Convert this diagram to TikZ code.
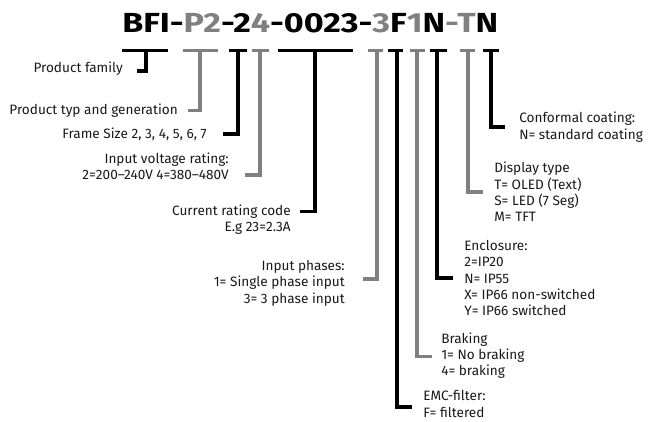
\documentclass[tikz,border=0pt]{standalone}
\usepackage{fontspec}
\setmainfont{Fira Sans}
\definecolor{cgray}{RGB}{128,128,128}
\tikzset{
  lbl/.style={font=\fontsize{10.2}{12.2}\selectfont, inner sep=0pt, text=black!90},
  blk/.style={line width=2.3pt, draw=black},
  gry/.style={line width=2.3pt, draw=cgray},
}
\begin{document}
\begin{tikzpicture}[x=0.75pt,y=-0.75pt]
\useasboundingbox (0,0) rectangle (648,421);
% title
\node[anchor=base west, inner sep=0pt] (title) at (122,32)
  {\resizebox{282pt}{\height}{\fontsize{20.7}{24}\selectfont\bfseries BFI-\textcolor{cgray}{P2}-2\textcolor{cgray}{4}-0023-\textcolor{cgray}{3}F\textcolor{cgray}{1}N\textcolor{cgray}{-T}N}};

% labels (left side); base anchor = last line baseline
\node[lbl, anchor=base east] (pf) at (123,72.7) {Product family};
\node[lbl, anchor=base east] (ptg) at (178,114) {Product typ and generation};
\node[lbl, anchor=base east] (fs) at (207,138.7) {Frame Size 2, 3, 4, 5, 6, 7};
\node[lbl, anchor=base east, align=right] (ivr) at (229,179.3) {Input voltage rating:\\2=200–240V 4=380–480V};
\node[lbl, anchor=base east, align=right] (crc) at (291,231.7) {Current rating code\\E.g 23=2.3A};
\node[lbl, anchor=base east, align=right] (ip) at (345,303) {Input phases:\\1= Single phase input\\3= 3 phase input};
% labels (right side)
\node[lbl, anchor=base west, align=left] (emc) at (423,417) {EMC-filter:\\F= filtered};
\node[lbl, anchor=base west, align=left] (brk) at (441,375.7) {Braking\\1= No braking\\4= braking};
\node[lbl, anchor=base west, align=left] (enc) at (464,315.7) {Enclosure:\\2=IP20\\N= IP55\\X= IP66 non-switched\\Y= IP66 switched};
\node[lbl, anchor=base west, align=left] (disp) at (494,221.7) {Display type\\T= OLED (Text)\\S= LED (7 Seg)\\M= TFT};
\node[lbl, anchor=base west, align=left] (cc) at (519,139) {Conformal coating:\\N= standard coating};

% bracket coordinates
\coordinate (a1) at (122,50.5); \coordinate (a2) at (168,50.5); \coordinate (at) at (146,50.5); \coordinate (af) at (137,71);
\coordinate (b1) at (183,50.5); \coordinate (b2) at (218,50.5); \coordinate (bt) at (200,50.5); \coordinate (bf) at (188,110.7);
\coordinate (c1) at (229,50.5); \coordinate (c2) at (247,50.5); \coordinate (ct) at (238,50.5); \coordinate (cf) at (223,134);
\coordinate (d1) at (252,50.5); \coordinate (d2) at (269,50.5); \coordinate (dt) at (260,50.5); \coordinate (df) at (245,175);
\coordinate (e1) at (278,50.5); \coordinate (e2) at (353,50.5); \coordinate (et) at (315,50.5); \coordinate (ef) at (300,211.7);
\coordinate (f1) at (368,50.5); \coordinate (f2) at (383,50.5); \coordinate (ft) at (377,50.5); \coordinate (ff) at (363,279);
\coordinate (g1) at (388,50.5); \coordinate (g2) at (403,50.5); \coordinate (gt) at (397,50.5); \coordinate (gf) at (412,407);
\coordinate (h1) at (410,50.5); \coordinate (h2) at (425,50.5); \coordinate (ht) at (417,50.5); \coordinate (hf) at (432,356.5);
\coordinate (i1) at (430,50.5); \coordinate (i2) at (447,50.5); \coordinate (it) at (437,50.5); \coordinate (if) at (453,278);
\coordinate (j1) at (460,50.5); \coordinate (j2) at (475,50.5); \coordinate (jt) at (468,50.5); \coordinate (jf) at (483,192);
\coordinate (k1) at (483,50.5); \coordinate (k2) at (499,50.5); \coordinate (kt) at (491,50.5); \coordinate (kf) at (505,127);

% brackets
\draw[blk] (a1) -- (a2); \draw[blk] (at) |- (af);
\draw[gry] (b1) -- (b2); \draw[gry] (bt) |- (bf);
\draw[blk] (c1) -- (c2); \draw[blk] (ct) |- (cf);
\draw[gry] (d1) -- (d2); \draw[gry] (dt) |- (df);
\draw[blk] (e1) -- (e2); \draw[blk] (et) |- (ef);
\draw[gry] (f1) -- (f2); \draw[gry] (ft) |- (ff);
\draw[blk] (g1) -- (g2); \draw[blk] (gt) |- (gf);
\draw[gry] (h1) -- (h2); \draw[gry] (ht) |- (hf);
\draw[blk] (i1) -- (i2); \draw[blk] (it) |- (if);
\draw[gry] (j1) -- (j2); \draw[gry] (jt) |- (jf);
\draw[blk] (k1) -- (k2); \draw[blk] (kt) |- (kf);
\end{tikzpicture}
\end{document}
